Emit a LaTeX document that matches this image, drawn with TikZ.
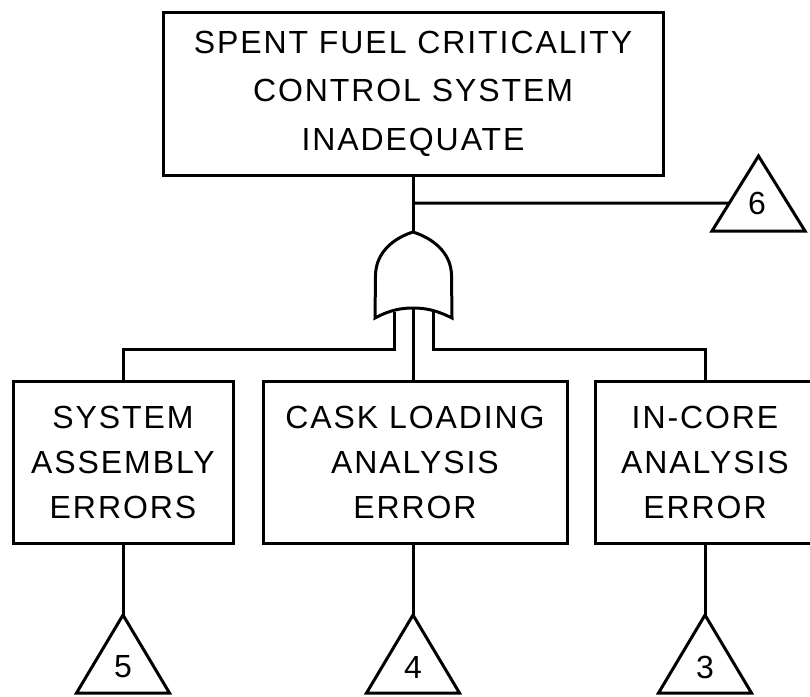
\documentclass[tikz,border=0pt]{standalone}
\usepackage{fontspec}
\setmainfont{Liberation Sans}
\newfontfamily\labelfont[LetterSpace=6]{Liberation Sans}
\usetikzlibrary{calc}
\begin{document}
\begin{tikzpicture}[x=1pt,y=-1pt,
  wire/.style={line width=3pt, line join=miter},
  box/.style={draw, line width=3pt, inner sep=0pt, align=center},
  topfont/.style={font=\labelfont\fontsize{32}{48.5}\selectfont},
  lowfont/.style={font=\labelfont\fontsize{32}{45}\selectfont},
  num/.style={font=\labelfont\fontsize{32}{32}\selectfont, inner sep=0pt}]
\clip (0,0) rectangle (810,696);
% top event
\node[box, topfont, minimum width=500pt, minimum height=163pt] (top) at (413,93.5)
  {SPENT FUEL CRITICALITY\\CONTROL SYSTEM\\INADEQUATE};
% lower events
\node[box, lowfont, minimum width=220pt, minimum height=162pt] (sae) at (123,462)
  {SYSTEM\\ASSEMBLY\\ERRORS};
\node[box, lowfont, minimum width=304pt, minimum height=162pt] (cla) at (415,462)
  {CASK LOADING\\ANALYSIS\\ERROR};
\node[box, lowfont, minimum width=220pt, minimum height=162pt] (ice) at (705,462)
  {IN-CORE\\ANALYSIS\\ERROR};
% OR gate
\coordinate (gtop) at (413,232);
\coordinate (inL) at (394,312);
\coordinate (inC) at (413,308);
\coordinate (inR) at (433,312);
\draw[wire, fill=white] (375,318) -- (375.5,275)
  .. controls (376,252) and (394,238) .. (gtop)
  .. controls (432,238) and (451,252) .. (451.5,275) -- (452,318)
  .. controls (436,310) and (425,308) .. (inC)
  .. controls (401,308) and (390,310) .. (375,318) -- cycle;
% top box to gate
\draw[wire] (top.south) -- (gtop);
% transfer triangle 6
\coordinate (t6a) at (758.5,156);
\coordinate (t6l) at (712,231);
\coordinate (t6r) at (805,231);
\draw[wire] (t6a) -- (t6r) -- (t6l) -- cycle;
\node[num] (n6) at (757,203) {6};
\coordinate (br) at (413,203);
\coordinate (t6in) at ($(t6a)!{(203-156)/75}!(t6l)$);
\draw[wire] (br) -- (t6in);
% gate inputs
\coordinate (busL) at (123,349);
\coordinate (busR) at (705,349);
\draw[wire] (inL) |- (busL) -- (sae.north);
\draw[wire] (inC) -- (inC |- cla.north);
\draw[wire] (inR) |- (busR) -- (ice.north);
% bottom transfer triangles
\coordinate (t5a) at (123,615);
\coordinate (t4a) at (413,615);
\coordinate (t3a) at (705,615);
\draw[wire] (t5a) -- ++(46.5,78) -- ++(-93,0) -- cycle;
\draw[wire] (t4a) -- ++(46.5,78) -- ++(-93,0) -- cycle;
\draw[wire] (t3a) -- ++(46.5,78) -- ++(-93,0) -- cycle;
\node[num] (n5) at (123,667) {5};
\node[num] (n4) at (413,667) {4};
\node[num] (n3) at (705,667) {3};
\draw[wire] (sae.south) -- (t5a);
\draw[wire] (t4a |- cla.south) -- (t4a);
\draw[wire] (ice.south) -- (t3a);
\end{tikzpicture}
\end{document}
